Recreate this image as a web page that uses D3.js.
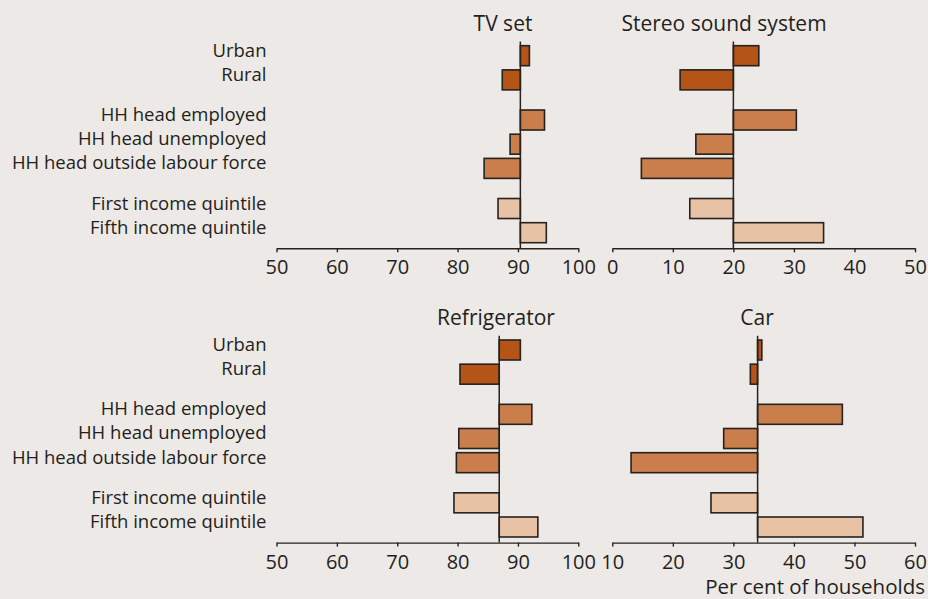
<!DOCTYPE html>
<html>
<head>
<meta charset="utf-8">
<script src="https://cdn.jsdelivr.net/npm/d3@7"></script>
<style>
  html, body { margin: 0; padding: 0; background: #EDE9E6; }
  svg { display: block; }
  text { font-family: "Open Sans", "Noto Sans", sans-serif; fill: #231f20; }
</style>
</head>
<body>
<svg id="chart" width="928" height="599"></svg>
<script>
// ---- data ----
const categories = ["Urban", "Rural", "HH head employed", "HH head unemployed",
  "HH head outside labour force", "First income quintile", "Fifth income quintile"];
const categoryGroups = [0, 0, 1, 1, 1, 2, 2];

const tvValues      = [91.9, 87.4, 94.4, 88.7, 84.4, 86.7, 94.7];
const tvBaseline    = 90.4;
const stereoValues  = [24.2, 11.2, 30.4, 13.8, 4.8, 12.8, 34.9];
const stereoBaseline = 20.0;
const fridgeValues  = [90.4, 80.4, 92.3, 80.2, 79.8, 79.4, 93.3];
const fridgeBaseline = 86.9;
const carValues     = [34.7, 32.8, 48.0, 28.4, 13.1, 26.3, 51.4];
const carBaseline   = 34.0;

const leftTicks  = [50, 60, 70, 80, 90, 100];
const stereoTicks = [0, 10, 20, 30, 40, 50];
const carTicks   = [10, 20, 30, 40, 50, 60];

const groupColors = ["#B45416", "#C97E4B", "#E8C2A5"];

// ---- layout ----
const svg = d3.select("#chart");
const groupGap = 0.66;
const pos = categories.map((c, i) => i + groupGap * categoryGroups[i]);

const panels = [
  { title: "TV set", values: tvValues, base: tvBaseline, domain: [50, 100], ticks: leftTicks,
    range: [276.5, 578.3], top: 0, titleX: 503 },
  { title: "Stereo sound system", values: stereoValues, base: stereoBaseline, domain: [0, 50], ticks: stereoTicks,
    range: [612.3, 915], top: 0, titleX: 724 },
  { title: "Refrigerator", values: fridgeValues, base: fridgeBaseline, domain: [50, 100], ticks: leftTicks,
    range: [276.5, 578.3], top: 294.3, titleX: 496 },
  { title: "Car", values: carValues, base: carBaseline, domain: [10, 60], ticks: carTicks,
    range: [612.3, 915], top: 294.3, titleX: 757 }
];

const barH = 20;

panels.forEach(p => {
  const g = svg.append("g").attr("transform", `translate(0,${p.top})`);
  const y = d3.scaleLinear().domain([0, d3.max(pos)]).range([55.7, 232.7]);
  const x = d3.scaleLinear().domain(p.domain).range(p.range);
  const axisY = 248.3;

  // bars
  g.selectAll("rect.bar").data(p.values).join("rect")
    .attr("class", "bar")
    .attr("x", d => Math.min(x(d), x(p.base)))
    .attr("width", d => Math.abs(x(d) - x(p.base)))
    .attr("y", (d, i) => y(pos[i]) - barH / 2)
    .attr("height", barH)
    .attr("fill", (d, i) => groupColors[categoryGroups[i]])
    .attr("stroke", "#262220")
    .attr("stroke-width", 1.6);

  // baseline
  g.append("line")
    .attr("x1", x(p.base)).attr("x2", x(p.base))
    .attr("y1", 41.5).attr("y2", axisY)
    .attr("stroke", "#262220").attr("stroke-width", 1.5);

  // axis
  const axis = d3.axisBottom(x).tickValues(p.ticks).tickSize(4).tickSizeOuter(0).tickPadding(8);
  const ag = g.append("g").attr("transform", `translate(0,${axisY})`).call(axis);
  ag.select(".domain").attr("stroke", "#262220").attr("stroke-width", 1.4);
  ag.selectAll(".tick line").attr("stroke", "#262220").attr("stroke-width", 1.4);
  ag.selectAll(".tick text").attr("font-size", 20).attr("font-family", "'Open Sans', sans-serif").attr("fill", "#231f20");

  // title
  g.append("text").attr("x", p.titleX).attr("y", 31).attr("text-anchor", "middle")
    .attr("font-size", 21).text(p.title);

  // category labels on left panels
  if (p.range[0] < 400) {
    g.selectAll("text.cat").data(categories).join("text")
      .attr("class", "cat")
      .attr("x", 266.5)
      .attr("y", (d, i) => y(pos[i]) + 1)
      .attr("text-anchor", "end")
      .attr("font-size", 18.5)
      .text(d => d);
  }
});

svg.append("text").attr("x", 925).attr("y", 594).attr("text-anchor", "end")
  .attr("font-size", 20.5).text("Per cent of households");
</script>
</body>
</html>
